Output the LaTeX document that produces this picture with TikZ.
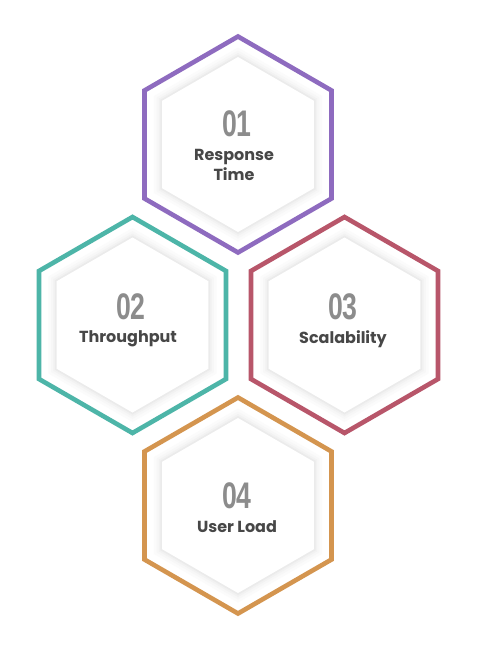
\documentclass[tikz,border=0pt]{standalone}
\usepackage{fontspec}
\setmainfont{Poppins}
\newfontfamily\numfont[FakeStretch=0.72]{Liberation Sans}
\definecolor{cpurple}{HTML}{8E6BBF}
\definecolor{cteal}{HTML}{4DB5A8}
\definecolor{cred}{HTML}{B8566A}
\definecolor{corange}{HTML}{D4954F}
\definecolor{numgray}{HTML}{8C8C8C}
\definecolor{txtgray}{HTML}{474747}
\newcommand\myhexpath[1]{(90:#1) -- (150:#1) -- (210:#1) -- (270:#1) -- (330:#1) -- (30:#1) -- cycle}
\newcommand\myhex[3]{%
  \begin{scope}[shift={(#1)}]
    \fill[white] \myhexpath{106};
    \fill[gray!3] \myhexpath{97};
    \fill[gray!6] \myhexpath{94};
    \fill[gray!10] \myhexpath{91.5};
    \fill[gray!16] \myhexpath{89.5};
    \fill[white] \myhexpath{87.5};
    \draw[hexline,#2] \myhexpath{108};
  \end{scope}}
\tikzset{
  hexline/.style={line width=4.6pt, line join=miter},
  numlabel/.style={font=\numfont\bfseries\fontsize{37}{37}\selectfont, text=numgray, inner sep=0pt},
  txtlabel/.style={font=\bfseries\fontsize{16}{19.5}\selectfont, text=txtgray, inner sep=0pt, align=center}
}
\begin{document}
\begin{tikzpicture}[x=1pt,y=-1pt]
\useasboundingbox (0,0) rectangle (479,656);
\fill[white] (0,0) rectangle (479,656);
\coordinate (c1) at (238,144.5);
\coordinate (c2) at (132.5,325);
\coordinate (c3) at (344.5,325);
\coordinate (c4) at (238,505.5);
\myhex{c1}{cpurple}{}
\myhex{c2}{cteal}{}
\myhex{c3}{cred}{}
\myhex{c4}{corange}{}
\node[numlabel] (n1) at (237,124) {01};
\node[txtlabel] (t1) at (234,165) {Response\\Time};
\node[numlabel] (n2) at (131,307) {02};
\node[txtlabel] (t2) at (128,338.5) {Throughput};
\node[numlabel] (n3) at (343,307) {03};
\node[txtlabel] (t3) at (343,339) {Scalability};
\node[numlabel] (n4) at (237,496) {04};
\node[txtlabel] (t4) at (237,527) {User Load};
\end{tikzpicture}
\end{document}
